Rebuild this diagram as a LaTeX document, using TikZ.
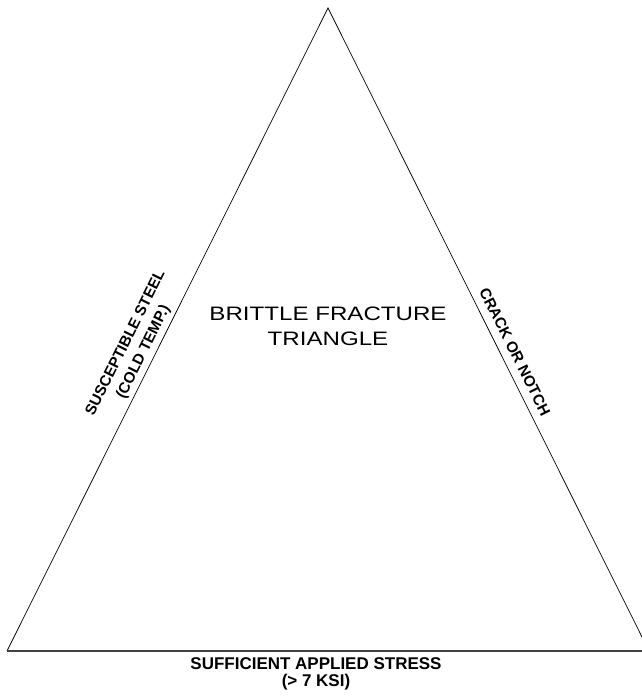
\documentclass[tikz,border=0pt]{standalone}
\usepackage{fontspec}
\setmainfont{Liberation Sans}
\newfontfamily\widefont[FakeStretch=1.24]{Liberation Sans}
\usetikzlibrary{calc}

\begin{document}
\begin{tikzpicture}[
    x=0.03cm, y=-0.03cm,
    side/.style={draw=black, line width=0.6pt},
    base/.style={draw=black!75, line width=1.6pt},
    sidelabel/.style={align=center, inner sep=0pt, font=\bfseries\fontsize{13}{17}\selectfont},
    title/.style={align=center, inner sep=0pt, font=\widefont\fontsize{16.6}{21.3}\selectfont},
    baselabel/.style={align=center, inner sep=0pt, font=\bfseries\fontsize{14.5}{14.5}\selectfont}
  ]
  \useasboundingbox (0,0) rectangle (642,697);
  % corners of the triangle
  \coordinate (apex) at (328,8);
  \coordinate (lc) at (7,651);
  \coordinate (rc) at (649,651);

  \draw[side] (lc) -- (apex) -- (rc);
  \draw[base] (lc) -- (rc);

  \node[title] (name) at (328,326) {BRITTLE FRACTURE\\TRIANGLE};

  % labels along the sides
  \coordinate (lfoot) at ($(lc)!0.457!(apex)$);
  \coordinate (rfoot) at ($(apex)!0.544!(rc)$);
  \node[sidelabel, rotate=63.47] (steel) at ($(lfoot)!0.63cm!90:(apex)$) {SUSCEPTIBLE STEEL\\(COLD TEMP.)};
  \node[sidelabel, rotate=-63.47] (crack) at ($(rfoot)!0.41cm!-90:(apex)$) {CRACK OR NOTCH};

  \node[baselabel] (stress) at (316,674) {SUFFICIENT APPLIED STRESS\\(> 7 KSI)};
\end{tikzpicture}
\end{document}
